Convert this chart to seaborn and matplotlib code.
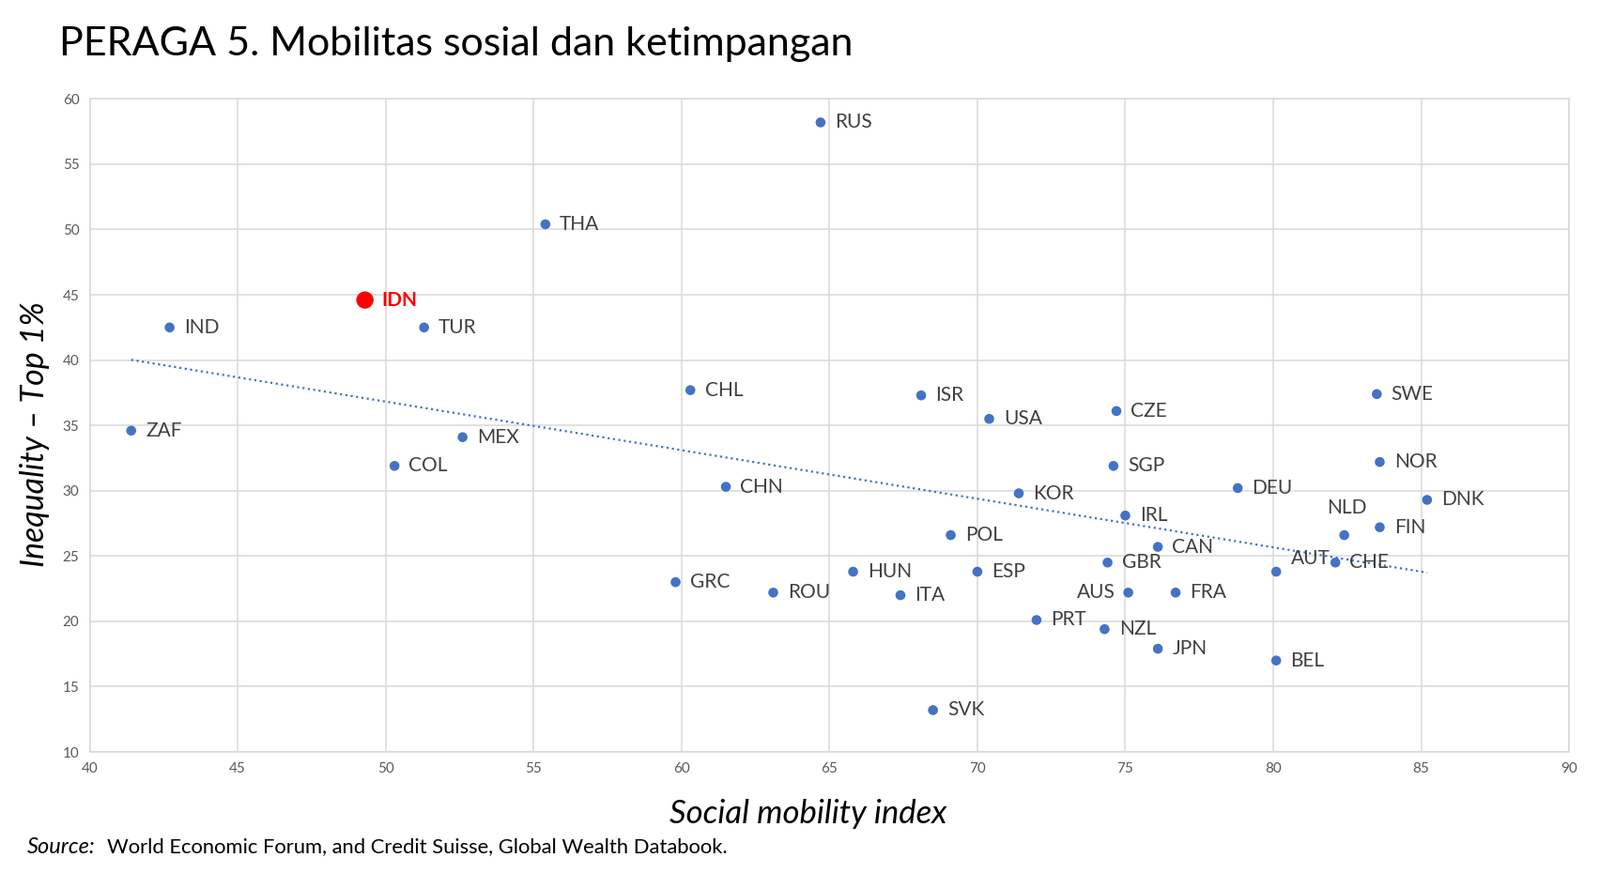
import numpy as np
import pandas as pd
import matplotlib
matplotlib.use("Agg")
import matplotlib.pyplot as plt
import seaborn as sns

countries = ["RUS", "THA", "IDN", "IND", "TUR", "ZAF", "MEX", "COL", "CHL", "CHN",
             "ISR", "USA", "CZE", "SGP", "KOR", "POL", "IRL", "CAN", "GBR", "AUS",
             "FRA", "HUN", "ESP", "GRC", "ROU", "ITA", "PRT", "NZL", "JPN", "BEL",
             "SVK", "DEU", "AUT", "CHE", "NLD", "SWE", "NOR", "FIN", "DNK"]
mobility = [64.7, 55.4, 49.3, 42.7, 51.3, 41.4, 52.6, 50.3, 60.3, 61.5,
            68.1, 70.4, 74.7, 74.6, 71.4, 69.1, 75.0, 76.1, 74.4, 75.1,
            76.7, 65.8, 70.0, 59.8, 63.1, 67.4, 72.0, 74.3, 76.1, 80.1,
            68.5, 78.8, 80.1, 82.1, 82.4, 83.5, 83.6, 83.6, 85.2]
inequality = [58.2, 50.4, 44.6, 42.5, 42.5, 34.6, 34.1, 31.9, 37.7, 30.3,
              37.3, 35.5, 36.1, 31.9, 29.8, 26.6, 28.1, 25.7, 24.5, 22.2,
              22.2, 23.8, 23.8, 23.0, 22.2, 22.0, 20.1, 19.4, 17.9, 17.0,
              13.2, 30.2, 23.8, 24.5, 26.6, 37.4, 32.2, 27.2, 29.3]

title = "PERAGA 5. Mobilitas sosial dan ketimpangan"
xlabel = "Social mobility index"
ylabel = "Inequality \u2013 Top 1%"
source_lbl = "Source:"
source_txt = "World Economic Forum, and Credit Suisse, Global Wealth Databook."
highlight = "IDN"

df = pd.DataFrame({"country": countries, "x": mobility, "y": inequality})

sns.set_theme(style="white")
plt.rcParams["font.family"] = ["Lato", "DejaVu Sans"]

BLUE = "#4472C4"
GRID = "#D9D9D9"

fig = plt.figure(figsize=(17.04, 9.30), dpi=100)
ax = fig.add_axes([0.0561, 0.1387, 0.9246, 0.748])

ax.set_xlim(40, 90)
ax.set_ylim(10, 60)
ax.set_xticks(np.arange(40, 91, 5))
ax.set_yticks(np.arange(10, 61, 5))
ax.grid(True, color=GRID, linewidth=1.1)
ax.set_axisbelow(True)
for s in ax.spines.values():
    s.set_color(GRID)
    s.set_linewidth(1.1)
ax.tick_params(axis="both", length=0, labelsize=11, labelcolor="#595959", pad=8)

# trend line
sns.regplot(data=df, x="x", y="y", scatter=False, ci=None, ax=ax,
            line_kws=dict(color=BLUE, linestyle=(0, (1, 1.6)), linewidth=1.6))

others = df[df.country != highlight]
hl = df[df.country == highlight]
sns.scatterplot(data=others, x="x", y="y", ax=ax, color=BLUE, s=58,
                edgecolor="none", zorder=3)
sns.scatterplot(data=hl, x="x", y="y", ax=ax, color="#FF0000", s=175,
                edgecolor="none", zorder=4)

special = {
    "AUS": dict(xytext=(-10, 0), ha="right"),
    "NLD": dict(xytext=(-13, 21), ha="left"),
    "AUT": dict(xytext=(11, 10), ha="left"),
}
for c, x, y in zip(countries, mobility, inequality):
    opts = special.get(c, dict(xytext=(11, 0), ha="left"))
    if c == highlight:
        ax.annotate(c, (x, y), xytext=(13, 0), textcoords="offset points",
                    ha="left", va="center", fontsize=15, fontweight="bold",
                    color="#FF0000", zorder=5)
    else:
        ax.annotate(c, (x, y), xytext=opts["xytext"], textcoords="offset points",
                    ha=opts["ha"], va="center", fontsize=15, color="#404040",
                    zorder=5)

ax.set_xlabel(xlabel, fontsize=25, style="italic", color="black", labelpad=18)
ax.set_ylabel(ylabel, fontsize=24.5, style="italic", color="black", labelpad=10)
ax.xaxis.label.set_x(0.4855)
ax.yaxis.label.set_y(0.486)

fig.text(0.037, 0.95, title, fontsize=31, color="black", ha="left", va="center")
fig.text(0.017, 0.030, source_lbl, fontsize=17, style="italic", color="black",
         ha="left", va="center")
fig.text(0.067, 0.030, source_txt, fontsize=15.8, color="black",
         ha="left", va="center")

fig.savefig("out.png", dpi=100)
